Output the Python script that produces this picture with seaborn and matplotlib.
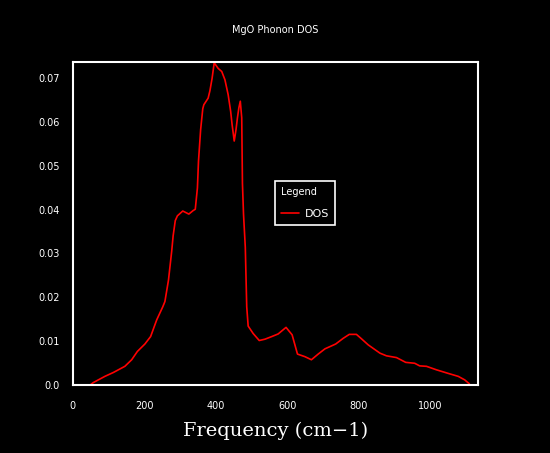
import matplotlib
matplotlib.use("Agg")
import matplotlib.pyplot as plt
import seaborn as sns
import pandas as pd
from matplotlib.ticker import FixedLocator, FuncFormatter

# Data
freq = [50, 58, 90, 114, 146, 165, 181, 202, 218, 235, 252, 258, 268, 277, 281,
        287, 293, 308, 325, 337, 343, 349, 352, 358, 364, 367, 379, 384, 390, 396,
        407, 417, 426, 435, 442, 446, 452, 457, 461, 465, 469, 473, 475, 478, 483,
        485, 487, 491, 505, 522, 538, 557, 575, 597, 614, 629, 650, 668, 687, 706,
        736, 757, 774, 794, 808, 827, 860, 878, 906, 932, 957, 971, 990, 1018,
        1046, 1079, 1097, 1110]
dos = [0.0000, 0.0005, 0.0019, 0.0028, 0.0042, 0.0057, 0.0076, 0.0093, 0.0110,
       0.0148, 0.0178, 0.0190, 0.0239, 0.0305, 0.0340, 0.0375, 0.0386, 0.0397,
       0.0390, 0.0398, 0.0401, 0.0450, 0.0511, 0.0583, 0.0631, 0.0640, 0.0655,
       0.0672, 0.0700, 0.0736, 0.0723, 0.0716, 0.0697, 0.0663, 0.0625, 0.0595,
       0.0557, 0.0583, 0.0610, 0.0633, 0.0648, 0.0610, 0.0460, 0.0390, 0.0314,
       0.0246, 0.0178, 0.0134, 0.0117, 0.0101, 0.0104, 0.0110, 0.0116, 0.0131,
       0.0114, 0.0070, 0.0064, 0.0057, 0.0070, 0.0082, 0.0093, 0.0106, 0.0115,
       0.0115, 0.0105, 0.0091, 0.0072, 0.0066, 0.0062, 0.0051, 0.0049, 0.0043,
       0.0042, 0.0034, 0.0027, 0.0019, 0.0011, 0.0002]
x_ticks = [0, 200, 400, 600, 800, 1000]
y_ticks = [0.0, 0.01, 0.02, 0.03, 0.04, 0.05, 0.06, 0.07]
title = "MgO Phonon DOS"
x_label = "Frequency (cm\u22121)"
series_name = "DOS"

df = pd.DataFrame({"Frequency": freq, "DOS": dos})

sns.set_style("dark")
plt.rcParams["font.family"] = ["DejaVu Sans"]

fig = plt.figure(figsize=(5.5, 4.53), dpi=100, facecolor="black")
ax = fig.add_axes([0.1322, 0.1508, 0.8696 - 0.1322, 0.8625 - 0.1508])
ax.set_facecolor("black")

sns.lineplot(data=df, x="Frequency", y="DOS", ax=ax, color="#ff0000",
             linewidth=1.2, label=series_name)

ax.set_xlim(0, 1135)
ax.set_ylim(0, 0.0737)
ax.grid(False)
for s in ax.spines.values():
    s.set_color("white")
    s.set_linewidth(1.5)
    s.set_visible(True)

ax.xaxis.set_major_locator(FixedLocator(x_ticks))
ax.yaxis.set_major_locator(FixedLocator(y_ticks))
ax.yaxis.set_major_formatter(FuncFormatter(lambda v, p: "0.0" if v == 0 else f"{v:.2f}"))
ax.tick_params(axis="both", colors="white", direction="out", length=7.5,
               width=1.5, labelsize=7, pad=2)
ax.tick_params(axis="x", pad=4)

ax.set_ylabel("")
ax.set_xlabel(x_label, family="DejaVu Serif", fontsize=14, color="white", labelpad=8)
fig.text(0.5, 1 - 30 / 453, title, ha="center", va="center", color="white", fontsize=7)

leg = ax.legend(title="Legend", loc="upper left", bbox_to_anchor=(0.5005, 0.5998),
                bbox_transform=fig.transFigure, borderaxespad=0, fancybox=False,
                facecolor="black", edgecolor="white", framealpha=1, fontsize=8,
                title_fontsize=7, handlelength=1.6, handletextpad=0.5,
                borderpad=0.55, labelspacing=1.0)
leg._legend_box.align = "left"
leg.get_frame().set_linewidth(1.2)
leg.get_title().set_color("white")
for t in leg.get_texts():
    t.set_color("white")

fig.savefig("out.png", dpi=100, facecolor="black")
